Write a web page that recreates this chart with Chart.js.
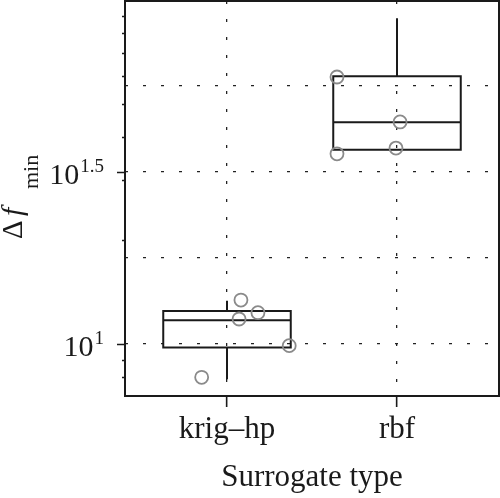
<!DOCTYPE html>
<html>
<head>
<meta charset="utf-8">
<script src="https://cdn.jsdelivr.net/npm/chart.js@4/dist/chart.umd.min.js"></script>
<style>
  html, body { margin: 0; padding: 0; background: #fff; }
  canvas { display: block; }
</style>
</head>
<body>
<canvas id="c" width="500" height="498"></canvas>
<script>
// ---- data ----
const categories = ['krig\u2013hp', 'rbf'];
const whiskerLow  = [7.9, 36.7];
const q1          = [9.76, 36.7];
const median      = [11.72, 44.1];
const q3          = [12.47, 60.0];
const whiskerHigh = [13.36, 88.5];

const krigValues = [13.42, 12.33, 11.82, 9.89, 8.0];
const krigJitter = [0.082, 0.182, 0.071, 0.366, -0.149];
const rbfValues  = [59.7, 44.2, 37.1, 35.7];
const rbfJitter  = [-0.353, 0.018, -0.006, -0.353];

const yGridValues  = [10, Math.pow(10, 1.25), Math.pow(10, 1.5), Math.pow(10, 1.75)];
const yMajorTicks  = [10, Math.pow(10, 1.5)];
const yMajorExps   = ['1', '1.5'];
const yMinorTicks  = [8, 9, 20, 30, 40, 50, 60, 70, 80, 90];
const xTitle = 'Surrogate type';
const yTitleMain = '\u0394';
const yTitleVar = 'f';
const yTitleSub = 'min';

// ---- styles ----
const INK = '#1a1a1a';
const SERIF = '"Liberation Serif", "Times New Roman", serif';
const DOT = [3, 15];

const boxPlugin = {
  id: 'boxes',
  beforeDatasetsDraw(chart) {
    const ctx = chart.ctx, xs = chart.scales.x, ys = chart.scales.y;
    ctx.save();
    ctx.strokeStyle = INK;
    ctx.lineWidth = 2;
    ctx.lineCap = 'butt';
    for (let i = 0; i < categories.length; i++) {
      const xc = xs.getPixelForValue(i);
      const half = xs.getPixelForValue(i + 0.375) - xc;
      const yq1 = ys.getPixelForValue(q1[i]);
      const yq3 = ys.getPixelForValue(q3[i]);
      const ym = ys.getPixelForValue(median[i]);
      const ylo = ys.getPixelForValue(whiskerLow[i]);
      const yhi = ys.getPixelForValue(whiskerHigh[i]);
      ctx.beginPath();
      ctx.rect(xc - half, yq3, 2 * half, yq1 - yq3);
      ctx.moveTo(xc - half, ym); ctx.lineTo(xc + half, ym);
      ctx.moveTo(xc, yq3); ctx.lineTo(xc, yhi);
      ctx.moveTo(xc, yq1); ctx.lineTo(xc, ylo);
      ctx.stroke();
    }
    ctx.restore();
  },
  afterDraw(chart) {
    const ctx = chart.ctx, xs = chart.scales.x, ys = chart.scales.y;
    const a = chart.chartArea;
    ctx.save();
    // frame
    ctx.strokeStyle = INK;
    ctx.lineWidth = 2;
    ctx.strokeRect(a.left, a.top, a.right - a.left, a.bottom - a.top);
    // y ticks
    ctx.lineWidth = 1.5;
    ctx.beginPath();
    yMinorTicks.forEach(v => {
      const y = Math.round(ys.getPixelForValue(v)) + 0.5;
      ctx.moveTo(a.left - 3, y); ctx.lineTo(a.left, y);
    });
    yMajorTicks.forEach(v => {
      const y = Math.round(ys.getPixelForValue(v)) + 0.5;
      ctx.moveTo(a.left - 8, y); ctx.lineTo(a.left, y);
    });
    ctx.stroke();
    // y tick labels: 10^exp
    ctx.fillStyle = INK;
    ctx.textBaseline = 'alphabetic';
    ctx.textAlign = 'left';
    yMajorTicks.forEach((v, k) => {
      const y = ys.getPixelForValue(v);
      ctx.font = '19px ' + SERIF;
      const ws = ctx.measureText(yMajorExps[k]).width;
      ctx.font = '30px ' + SERIF;
      const wm = ctx.measureText('10').width;
      const right = 104;
      const base = y + 12;
      ctx.fillText('10', right - ws - wm - 1, base);
      ctx.font = '19px ' + SERIF;
      ctx.fillText(yMajorExps[k], right - ws, base - 12);
    });
    // x tick labels
    ctx.font = '31px ' + SERIF;
    ctx.textAlign = 'center';
    categories.forEach((c, i) => {
      ctx.fillText(c, xs.getPixelForValue(i), 438);
    });
    // x title
    ctx.font = '31px ' + SERIF;
    ctx.fillText(xTitle, (a.left + a.right) / 2, 486);
    // y title (rotated)
    ctx.save();
    ctx.translate(22, 239);
    ctx.rotate(-Math.PI / 2);
    ctx.textAlign = 'left';
    ctx.font = '29px ' + SERIF;
    ctx.fillText(yTitleMain, 0, 0);
    ctx.font = 'italic 30px ' + SERIF;
    ctx.fillText(yTitleVar, 23, 0);
    ctx.font = '22px ' + SERIF;
    ctx.fillText(yTitleSub, 50, 16);
    ctx.restore();
    ctx.restore();
  }
};

const pointStyle = {
  type: 'scatter',
  pointRadius: 6.5,
  pointHoverRadius: 6.5,
  borderColor: '#8a8a8a',
  backgroundColor: 'rgba(0,0,0,0)',
  borderWidth: 1.8
};

new Chart(document.getElementById('c'), {
  type: 'scatter',
  data: {
    datasets: [
      Object.assign({ label: categories[0], data: krigValues.map((v, j) => ({ x: 0 + krigJitter[j], y: v })) }, pointStyle),
      Object.assign({ label: categories[1], data: rbfValues.map((v, j) => ({ x: 1 + rbfJitter[j], y: v })) }, pointStyle)
    ]
  },
  options: {
    responsive: false,
    animation: false,
    devicePixelRatio: 1,
    layout: { autoPadding: false, padding: { top: 1, right: 1, left: 0, bottom: 0 } },
    plugins: { legend: { display: false }, tooltip: { enabled: false } },
    scales: {
      x: {
        type: 'linear',
        min: -0.6,
        max: 1.6,
        afterBuildTicks: s => { s.ticks = [{ value: 0 }, { value: 1 }]; },
        afterFit: s => { s.height = 102; },
        ticks: { display: false },
        grid: {
          display: true, drawOnChartArea: true, drawTicks: true,
          tickLength: 11, color: '#222', lineWidth: 1.3,
          tickColor: INK, tickWidth: 1.6
        },
        border: { display: false, dash: DOT }
      },
      y: {
        type: 'logarithmic',
        min: 7.06,
        max: 99.3,
        afterBuildTicks: s => { s.ticks = yGridValues.map(v => ({ value: v })); },
        afterFit: s => { s.width = 125; },
        ticks: { display: false },
        grid: { display: true, drawTicks: false, color: '#222', lineWidth: 1.3 },
        border: { display: false, dash: DOT }
      }
    }
  },
  plugins: [boxPlugin]
});
</script>
</body>
</html>
